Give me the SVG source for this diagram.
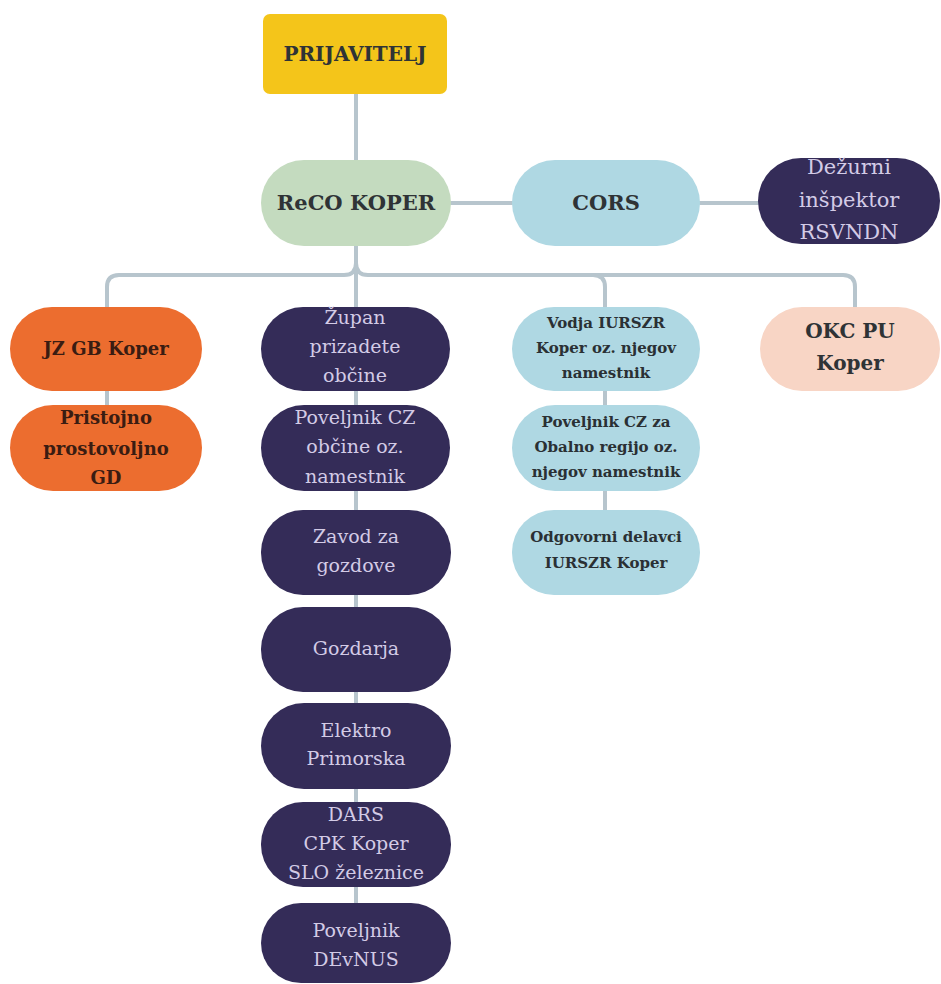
<svg xmlns="http://www.w3.org/2000/svg" width="941" height="984" viewBox="0 0 941 984">
<style>
.c{fill:none;stroke:#b7c5cd;stroke-width:4;stroke-linecap:round;stroke-linejoin:round}
text{font-family:"DejaVu Serif","Liberation Serif",serif;text-anchor:middle}
.dk{fill:#2f3336;font-weight:bold}
.nv{fill:#d3cbe6;font-size:19px}
.navy{fill:#342c58}
.blue{fill:#afd8e3}
.org{fill:#ec6d2f}
.ot{fill:#3a1c12;font-weight:bold;font-size:18px}
.bt{fill:#2a3034;font-weight:bold;font-size:15px}
</style>
<rect width="941" height="984" fill="#ffffff"/>
<g id="connectors">
<path class="c" d="M356 94 V160"/>
<path class="c" d="M451 203 H512"/>
<path class="c" d="M700 203 H758"/>
<path class="c" d="M356 246 V263 Q356 275 344 275 H119 Q107 275 107 287 V405"/>
<path class="c" d="M356 263 Q356 275 368 275 H843 Q855 275 855 287 V307"/>
<path class="c" d="M593 275 Q605 275 605 287 V510"/>
<path class="c" d="M356 263 V903"/>
</g>
<g id="prijavitelj"><rect x="263" y="14" width="184" height="80" rx="7" fill="#f4c51a"/><text class="dk" x="355" y="61" font-size="20">PRIJAVITELJ</text></g>
<g id="reco"><rect x="261" y="160" width="190" height="86" rx="43" fill="#c4dbbf"/><text class="dk" x="356" y="210" font-size="21">ReCO KOPER</text></g>
<g id="cors"><rect x="512" y="160" width="188" height="86" rx="43" class="blue"/><text class="dk" x="606" y="210" font-size="21">CORS</text></g>
<g id="dezurni"><rect x="758" y="158" width="182" height="86" rx="43" class="navy"/><text fill="#d3cbe6" font-size="21"><tspan x="849" y="174">Dežurni</tspan><tspan x="849" y="207">inšpektor</tspan><tspan x="849" y="239">RSVNDN</tspan></text></g>
<g id="jzgb"><rect x="10" y="307" width="192" height="84" rx="42" class="org"/><text class="ot" x="106" y="355">JZ GB Koper</text></g>
<g id="pristojno"><rect x="10" y="405" width="192" height="86" rx="43" class="org"/><text class="ot"><tspan x="106" y="424">Pristojno</tspan><tspan x="106" y="455">prostovoljno</tspan><tspan x="106" y="484">GD</tspan></text></g>
<g id="zupan"><rect x="261" y="307" width="189" height="84" rx="42" class="navy"/><text class="nv"><tspan x="355" y="324">Župan</tspan><tspan x="355" y="353">prizadete</tspan><tspan x="355" y="382">občine</tspan></text></g>
<g id="poveljnik-obcine"><rect x="261" y="405" width="189" height="86" rx="43" class="navy"/><text class="nv"><tspan x="355" y="424">Poveljnik CZ</tspan><tspan x="355" y="453">občine oz.</tspan><tspan x="355" y="483">namestnik</tspan></text></g>
<g id="zavod"><rect x="261" y="510" width="190" height="85" rx="42" class="navy"/><text class="nv"><tspan x="356" y="543">Zavod za</tspan><tspan x="356" y="572">gozdove</tspan></text></g>
<g id="gozdarja"><rect x="261" y="607" width="190" height="85" rx="42" class="navy"/><text class="nv" x="356" y="655">Gozdarja</text></g>
<g id="elektro"><rect x="261" y="703" width="190" height="86" rx="43" class="navy"/><text class="nv"><tspan x="356" y="737">Elektro</tspan><tspan x="356" y="765">Primorska</tspan></text></g>
<g id="dars"><rect x="261" y="802" width="190" height="85" rx="42" class="navy"/><text class="nv"><tspan x="356" y="821">DARS</tspan><tspan x="356" y="850">CPK Koper</tspan><tspan x="356" y="879">SLO železnice</tspan></text></g>
<g id="devnus"><rect x="261" y="903" width="190" height="80" rx="40" class="navy"/><text class="nv"><tspan x="356" y="937">Poveljnik</tspan><tspan x="356" y="966">DEvNUS</tspan></text></g>
<g id="vodja"><rect x="512" y="307" width="188" height="84" rx="42" class="blue"/><text class="bt"><tspan x="606" y="328">Vodja IURSZR</tspan><tspan x="606" y="353">Koper oz. njegov</tspan><tspan x="606" y="378">namestnik</tspan></text></g>
<g id="poveljnik-obalno"><rect x="512" y="405" width="188" height="86" rx="43" class="blue"/><text class="bt"><tspan x="606" y="427">Poveljnik CZ za</tspan><tspan x="606" y="452">Obalno regijo oz.</tspan><tspan x="606" y="477">njegov namestnik</tspan></text></g>
<g id="odgovorni"><rect x="512" y="510" width="188" height="85" rx="42" class="blue"/><text class="bt"><tspan x="606" y="542">Odgovorni delavci</tspan><tspan x="606" y="568">IURSZR Koper</tspan></text></g>
<g id="okc"><rect x="760" y="307" width="180" height="84" rx="42" fill="#f8d5c5"/><text class="dk" font-size="20"><tspan x="850" y="338">OKC PU</tspan><tspan x="850" y="370">Koper</tspan></text></g>
</svg>
